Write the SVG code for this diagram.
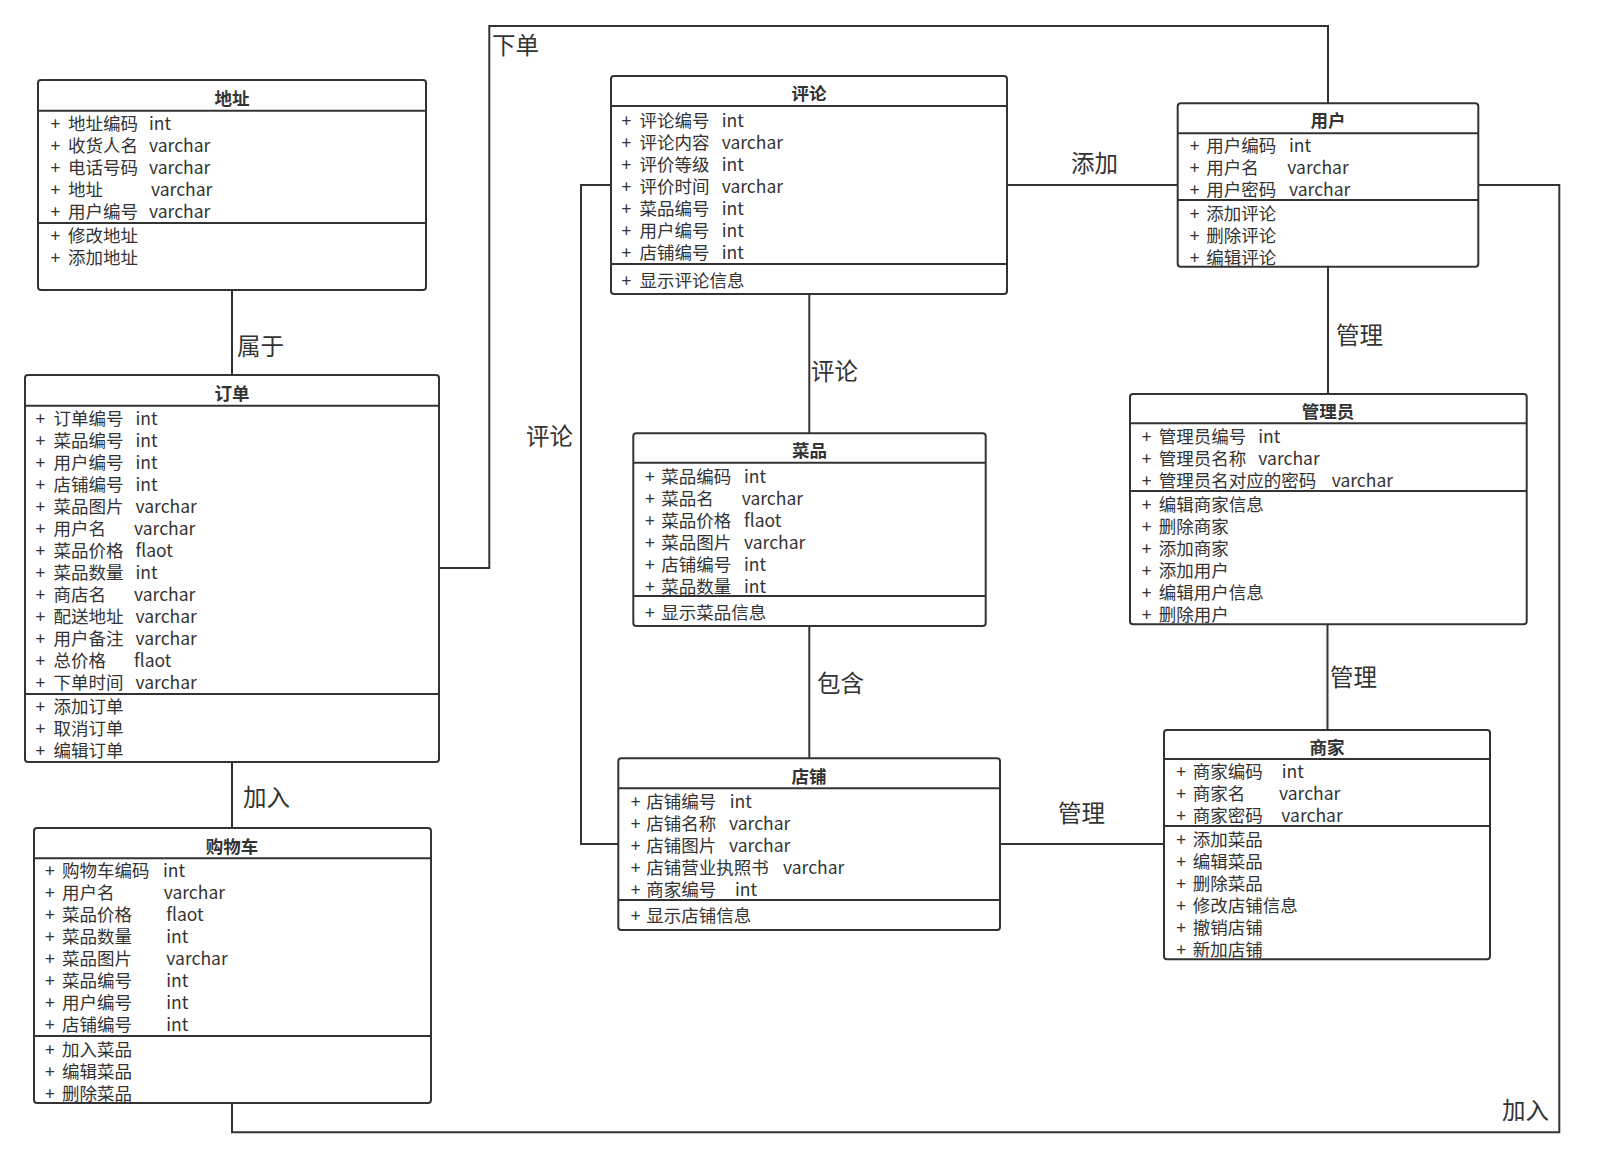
<svg xmlns="http://www.w3.org/2000/svg" width="1610" height="1158" viewBox="0 0 1610 1158">
  <style>
    text { font-family: "Microsoft YaHei", "Noto Sans CJK SC", "Noto Sans", sans-serif; fill: #333333; }
    .box { fill: #ffffff; stroke: #333333; stroke-width: 2; }
    .sep { stroke: #333333; stroke-width: 2; }
    .title { font-size: 17.5px; font-weight: bold; text-anchor: middle; dominant-baseline: central; }
    .row { font-size: 17.5px; dominant-baseline: central; }
    .lbl { font-size: 23.5px; dominant-baseline: central; }
    .wire { fill: none; stroke: #333333; stroke-width: 2; }
  </style>

  <rect x="0" y="0" width="1610" height="1158" fill="#ffffff"/>

  <!-- connectors -->
  <g id="connectors">
    <path class="wire" d="M232 290 V375"/>
    <path class="wire" d="M232 762 V828"/>
    <path class="wire" d="M439 568 H489.3 V26 H1328 V103.3"/>
    <path class="wire" d="M611 185 H581 V844 H618.3"/>
    <path class="wire" d="M1007 185 H1177.7"/>
    <path class="wire" d="M809.3 294 V433.3"/>
    <path class="wire" d="M809.3 626 V758.3"/>
    <path class="wire" d="M1328 267 V394"/>
    <path class="wire" d="M1327.5 624 V730"/>
    <path class="wire" d="M1000 844 H1164"/>
    <path class="wire" d="M1478.3 185 H1559.3 V1132.3 H232 V1103"/>
    <g transform="translate(0,-2.5)">
      <text class="lbl" x="237" y="347">属于</text>
      <text class="lbl" x="243" y="798">加入</text>
      <text class="lbl" x="492" y="46.7">下单</text>
      <text class="lbl" x="526" y="437">评论</text>
      <text class="lbl" x="1071" y="164">添加</text>
      <text class="lbl" x="811" y="372.7">评论</text>
      <text class="lbl" x="817" y="684">包含</text>
      <text class="lbl" x="1336" y="336.8">管理</text>
      <text class="lbl" x="1330" y="678.7">管理</text>
      <text class="lbl" x="1058" y="814.2">管理</text>
      <text class="lbl" x="1502" y="1111.7">加入</text>
    </g>
  </g>

  <!-- 地址 -->
  <g id="address">
    <rect class="box" x="38" y="80" width="388" height="210" rx="3"/>
    <text class="title" x="232" y="97">地址</text>
    <g class="row" transform="translate(0,-2)">
      <text x="50.5" y="124.3">+</text><text x="68" y="124.3">地址编码</text><text x="149" y="124.3">int</text>
      <text x="50.5" y="146.3">+</text><text x="68" y="146.3">收货人名</text><text x="149" y="146.3">varchar</text>
      <text x="50.5" y="168.3">+</text><text x="68" y="168.3">电话号码</text><text x="149" y="168.3">varchar</text>
      <text x="50.5" y="190.3">+</text><text x="68" y="190.3">地址</text><text x="151" y="190.3">varchar</text>
      <text x="50.5" y="212.3">+</text><text x="68" y="212.3">用户编号</text><text x="149" y="212.3">varchar</text>
      <text x="50.5" y="236">+</text><text x="68" y="236">修改地址</text>
      <text x="50.5" y="258">+</text><text x="68" y="258">添加地址</text>
    </g>
    <line class="sep" x1="38" y1="110.7" x2="426" y2="110.7"/>
    <line class="sep" x1="38" y1="223" x2="426" y2="223"/>
  </g>

  <!-- 订单 -->
  <g id="order">
    <rect class="box" x="25" y="375" width="414" height="387" rx="3"/>
    <text class="title" x="232" y="392">订单</text>
    <g class="row" transform="translate(0,-2)">
      <text x="35.5" y="419">+</text><text x="53.5" y="419">订单编号</text><text x="135.5" y="419">int</text>
      <text x="35.5" y="441">+</text><text x="53.5" y="441">菜品编号</text><text x="135.5" y="441">int</text>
      <text x="35.5" y="463">+</text><text x="53.5" y="463">用户编号</text><text x="135.5" y="463">int</text>
      <text x="35.5" y="485">+</text><text x="53.5" y="485">店铺编号</text><text x="135.5" y="485">int</text>
      <text x="35.5" y="507">+</text><text x="53.5" y="507">菜品图片</text><text x="135.5" y="507">varchar</text>
      <text x="35.5" y="529">+</text><text x="53.5" y="529">用户名</text><text x="134" y="529">varchar</text>
      <text x="35.5" y="551">+</text><text x="53.5" y="551">菜品价格</text><text x="135.5" y="551">flaot</text>
      <text x="35.5" y="573">+</text><text x="53.5" y="573">菜品数量</text><text x="135.5" y="573">int</text>
      <text x="35.5" y="595">+</text><text x="53.5" y="595">商店名</text><text x="134" y="595">varchar</text>
      <text x="35.5" y="617">+</text><text x="53.5" y="617">配送地址</text><text x="135.5" y="617">varchar</text>
      <text x="35.5" y="639">+</text><text x="53.5" y="639">用户备注</text><text x="135.5" y="639">varchar</text>
      <text x="35.5" y="661">+</text><text x="53.5" y="661">总价格</text><text x="134" y="661">flaot</text>
      <text x="35.5" y="683">+</text><text x="53.5" y="683">下单时间</text><text x="135.5" y="683">varchar</text>
      <text x="35.5" y="707.7">+</text><text x="53.5" y="707.7">添加订单</text>
      <text x="35.5" y="729.7">+</text><text x="53.5" y="729.7">取消订单</text>
      <text x="35.5" y="751.7">+</text><text x="53.5" y="751.7">编辑订单</text>
    </g>
    <line class="sep" x1="25" y1="405.7" x2="439" y2="405.7"/>
    <line class="sep" x1="25" y1="694" x2="439" y2="694"/>
  </g>

  <!-- 购物车 -->
  <g id="cart">
    <rect class="box" x="34" y="828" width="397" height="275" rx="3"/>
    <text class="title" x="232" y="845">购物车</text>
    <g class="row" transform="translate(0,-2)">
      <text x="45" y="871.7">+</text><text x="62" y="871.7">购物车编码</text><text x="163" y="871.7">int</text>
      <text x="45" y="893.7">+</text><text x="62" y="893.7">用户名</text><text x="163.7" y="893.7">varchar</text>
      <text x="45" y="915.7">+</text><text x="62" y="915.7">菜品价格</text><text x="166.3" y="915.7">flaot</text>
      <text x="45" y="937.7">+</text><text x="62" y="937.7">菜品数量</text><text x="166.3" y="937.7">int</text>
      <text x="45" y="959.7">+</text><text x="62" y="959.7">菜品图片</text><text x="166.3" y="959.7">varchar</text>
      <text x="45" y="981.7">+</text><text x="62" y="981.7">菜品编号</text><text x="166.3" y="981.7">int</text>
      <text x="45" y="1003.7">+</text><text x="62" y="1003.7">用户编号</text><text x="166.3" y="1003.7">int</text>
      <text x="45" y="1025.7">+</text><text x="62" y="1025.7">店铺编号</text><text x="166.3" y="1025.7">int</text>
      <text x="45" y="1050">+</text><text x="62" y="1050">加入菜品</text>
      <text x="45" y="1072">+</text><text x="62" y="1072">编辑菜品</text>
      <text x="45" y="1094">+</text><text x="62" y="1094">删除菜品</text>
    </g>
    <line class="sep" x1="34" y1="858.3" x2="431" y2="858.3"/>
    <line class="sep" x1="34" y1="1036" x2="431" y2="1036"/>
  </g>

  <!-- 评论 -->
  <g id="comment">
    <rect class="box" x="611" y="76" width="396" height="218" rx="3"/>
    <text class="title" x="809" y="92.5">评论</text>
    <g class="row" transform="translate(0,-2)">
      <text x="621.5" y="121">+</text><text x="639.5" y="121">评论编号</text><text x="721.7" y="121">int</text>
      <text x="621.5" y="143">+</text><text x="639.5" y="143">评论内容</text><text x="721.7" y="143">varchar</text>
      <text x="621.5" y="165">+</text><text x="639.5" y="165">评价等级</text><text x="721.7" y="165">int</text>
      <text x="621.5" y="187">+</text><text x="639.5" y="187">评价时间</text><text x="721.7" y="187">varchar</text>
      <text x="621.5" y="209">+</text><text x="639.5" y="209">菜品编号</text><text x="721.7" y="209">int</text>
      <text x="621.5" y="231">+</text><text x="639.5" y="231">用户编号</text><text x="721.7" y="231">int</text>
      <text x="621.5" y="253">+</text><text x="639.5" y="253">店铺编号</text><text x="721.7" y="253">int</text>
      <text x="621.5" y="281">+</text><text x="639.5" y="281">显示评论信息</text>
    </g>
    <line class="sep" x1="611" y1="106" x2="1007" y2="106"/>
    <line class="sep" x1="611" y1="264" x2="1007" y2="264"/>
  </g>

  <!-- 菜品 -->
  <g id="dish">
    <rect class="box" x="633.3" y="433.3" width="352.4" height="192.7" rx="3"/>
    <text class="title" x="809.5" y="449.5">菜品</text>
    <g class="row" transform="translate(0,-2)">
      <text x="645" y="477.3">+</text><text x="661.2" y="477.3">菜品编码</text><text x="744" y="477.3">int</text>
      <text x="645" y="499.3">+</text><text x="661.2" y="499.3">菜品名</text><text x="741.7" y="499.3">varchar</text>
      <text x="645" y="521.3">+</text><text x="661.2" y="521.3">菜品价格</text><text x="744" y="521.3">flaot</text>
      <text x="645" y="543.3">+</text><text x="661.2" y="543.3">菜品图片</text><text x="744" y="543.3">varchar</text>
      <text x="645" y="565.3">+</text><text x="661.2" y="565.3">店铺编号</text><text x="744" y="565.3">int</text>
      <text x="645" y="587.3">+</text><text x="661.2" y="587.3">菜品数量</text><text x="744" y="587.3">int</text>
      <text x="645" y="613.3">+</text><text x="661.2" y="613.3">显示菜品信息</text>
    </g>
    <line class="sep" x1="633.3" y1="462.7" x2="985.7" y2="462.7"/>
    <line class="sep" x1="633.3" y1="596" x2="985.7" y2="596"/>
  </g>

  <!-- 店铺 -->
  <g id="shop">
    <rect class="box" x="618.3" y="758.3" width="381.7" height="171.7" rx="3"/>
    <text class="title" x="809" y="775">店铺</text>
    <g class="row" transform="translate(0,-2)">
      <text x="630.7" y="802.7">+</text><text x="646.2" y="802.7">店铺编号</text><text x="729.7" y="802.7">int</text>
      <text x="630.7" y="824.7">+</text><text x="646.2" y="824.7">店铺名称</text><text x="729" y="824.7">varchar</text>
      <text x="630.7" y="846.7">+</text><text x="646.2" y="846.7">店铺图片</text><text x="729" y="846.7">varchar</text>
      <text x="630.7" y="868.7">+</text><text x="646.2" y="868.7">店铺营业执照书</text><text x="783" y="868.7">varchar</text>
      <text x="630.7" y="890.7">+</text><text x="646.2" y="890.7">商家编号</text><text x="735" y="890.7">int</text>
      <text x="630.7" y="916.7">+</text><text x="646.2" y="916.7">显示店铺信息</text>
    </g>
    <line class="sep" x1="618.3" y1="788.3" x2="1000" y2="788.3"/>
    <line class="sep" x1="618.3" y1="900" x2="1000" y2="900"/>
  </g>

  <!-- 用户 -->
  <g id="user">
    <rect class="box" x="1177.7" y="103.3" width="300.6" height="163.4" rx="3"/>
    <text class="title" x="1328" y="119.5">用户</text>
    <g class="row" transform="translate(0,-2)">
      <text x="1189.7" y="146.7">+</text><text x="1206.2" y="146.7">用户编码</text><text x="1289" y="146.7">int</text>
      <text x="1189.7" y="168.7">+</text><text x="1206.2" y="168.7">用户名</text><text x="1287.3" y="168.7">varchar</text>
      <text x="1189.7" y="190.7">+</text><text x="1206.2" y="190.7">用户密码</text><text x="1289" y="190.7">varchar</text>
      <text x="1189.7" y="214">+</text><text x="1206.2" y="214">添加评论</text>
      <text x="1189.7" y="236">+</text><text x="1206.2" y="236">删除评论</text>
      <text x="1189.7" y="258">+</text><text x="1206.2" y="258">编辑评论</text>
    </g>
    <line class="sep" x1="1177.7" y1="133.3" x2="1478.3" y2="133.3"/>
    <line class="sep" x1="1177.7" y1="200" x2="1478.3" y2="200"/>
  </g>

  <!-- 管理员 -->
  <g id="admin">
    <rect class="box" x="1130" y="394" width="396.7" height="230.3" rx="3"/>
    <text class="title" x="1328" y="410.5">管理员</text>
    <g class="row" transform="translate(0,-2)">
      <text x="1141.7" y="437.7">+</text><text x="1158.8" y="437.7">管理员编号</text><text x="1258.3" y="437.7">int</text>
      <text x="1141.7" y="459.7">+</text><text x="1158.8" y="459.7">管理员名称</text><text x="1258.3" y="459.7">varchar</text>
      <text x="1141.7" y="481.7">+</text><text x="1158.8" y="481.7">管理员名对应的密码</text><text x="1331.7" y="481.7">varchar</text>
      <text x="1141.7" y="505">+</text><text x="1158.8" y="505">编辑商家信息</text>
      <text x="1141.7" y="527">+</text><text x="1158.8" y="527">删除商家</text>
      <text x="1141.7" y="549">+</text><text x="1158.8" y="549">添加商家</text>
      <text x="1141.7" y="571">+</text><text x="1158.8" y="571">添加用户</text>
      <text x="1141.7" y="593">+</text><text x="1158.8" y="593">编辑用户信息</text>
      <text x="1141.7" y="615">+</text><text x="1158.8" y="615">删除用户</text>
    </g>
    <line class="sep" x1="1130" y1="423.3" x2="1526.7" y2="423.3"/>
    <line class="sep" x1="1130" y1="491" x2="1526.7" y2="491"/>
  </g>

  <!-- 商家 -->
  <g id="merchant">
    <rect class="box" x="1164" y="730" width="326" height="229.3" rx="3"/>
    <text class="title" x="1327" y="746">商家</text>
    <g class="row" transform="translate(0,-2)">
      <text x="1176.3" y="772.7">+</text><text x="1192.8" y="772.7">商家编码</text><text x="1281.7" y="772.7">int</text>
      <text x="1176.3" y="794.7">+</text><text x="1192.8" y="794.7">商家名</text><text x="1279" y="794.7">varchar</text>
      <text x="1176.3" y="816.7">+</text><text x="1192.8" y="816.7">商家密码</text><text x="1281.3" y="816.7">varchar</text>
      <text x="1176.3" y="840.7">+</text><text x="1192.8" y="840.7">添加菜品</text>
      <text x="1176.3" y="862.7">+</text><text x="1192.8" y="862.7">编辑菜品</text>
      <text x="1176.3" y="884.7">+</text><text x="1192.8" y="884.7">删除菜品</text>
      <text x="1176.3" y="906.7">+</text><text x="1192.8" y="906.7">修改店铺信息</text>
      <text x="1176.3" y="928.7">+</text><text x="1192.8" y="928.7">撤销店铺</text>
      <text x="1176.3" y="950.7">+</text><text x="1192.8" y="950.7">新加店铺</text>
    </g>
    <line class="sep" x1="1164" y1="759" x2="1490" y2="759"/>
    <line class="sep" x1="1164" y1="826" x2="1490" y2="826"/>
  </g>
</svg>
